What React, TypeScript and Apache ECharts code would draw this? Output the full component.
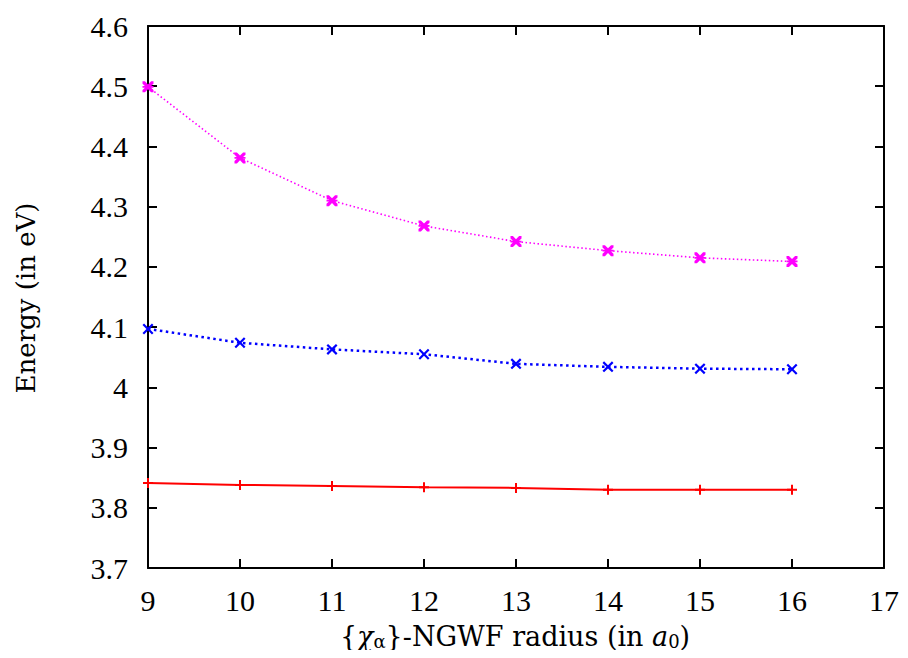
import React, { useEffect, useRef } from "react";
import * as echarts from "echarts";

const radii = [9, 10, 11, 12, 13, 14, 15, 16];
const magentaValues = [4.499, 4.381, 4.310, 4.268, 4.242, 4.227, 4.215, 4.209];
const blueValues = [4.097, 4.074, 4.063, 4.055, 4.039, 4.034, 4.031, 4.030];
const redValues = [3.841, 3.838, 3.836, 3.834, 3.833, 3.830, 3.830, 3.830];

const FONT = "'Liberation Serif', serif";
const TFONT = "'DejaVu Serif', serif";

const plusPath = "path://M4,0h2v4h4v2h-4v4h-2v-4h-4v-2h4z";
const crossPath =
  "path://M1.4,0L5,3.6L8.6,0L10,1.4L6.4,5L10,8.6L8.6,10L5,6.4L1.4,10L0,8.6L3.6,5L0,1.4z";
const starPath =
  "path://M0,0h2.2L5,2.8L7.8,0H10V2.2L7.8,4.2H10V5.8H7.8L10,7.8V10H7.8L5,7.2L2.2,10H0V7.8L2.2,5.8H0V4.2H2.2L0,2.2z";

function pairs(ys: number[]) {
  return radii.map((x, i) => [x, ys[i]]);
}

export default function App() {
  const ref = useRef<HTMLDivElement>(null);
  useEffect(() => {
    if (!ref.current) return;
    const chart = echarts.init(ref.current, undefined, { renderer: "svg" });
    const axisLine = { show: true, lineStyle: { color: "#000", width: 2 } };
    const axisTick = { show: true, inside: true, length: 9, lineStyle: { color: "#000", width: 2 } };
    chart.setOption({
      animation: false,
      backgroundColor: "#fff",
      grid: { left: 148, top: 26, right: 24, bottom: 90, containLabel: false },
      xAxis: [
        {
          type: "value",
          min: 9,
          max: 17,
          interval: 1,
          position: "bottom",
          axisLine,
          axisTick,
          splitLine: { show: false },
          axisLabel: { color: "#000", fontFamily: FONT, fontSize: 30, margin: 17 },
        },
        {
          type: "value",
          min: 9,
          max: 17,
          interval: 1,
          position: "top",
          axisLine,
          axisTick,
          splitLine: { show: false },
          axisLabel: { show: false },
        },
      ],
      yAxis: [
        {
          type: "value",
          min: 3.7,
          max: 4.6,
          interval: 0.1,
          position: "left",
          axisLine,
          axisTick,
          splitLine: { show: false },
          axisLabel: {
            color: "#000",
            fontFamily: FONT,
            fontSize: 30,
            margin: 20,
            formatter: (v: number) => String(+v.toFixed(1)),
          },
        },
        {
          type: "value",
          min: 3.7,
          max: 4.6,
          interval: 0.1,
          position: "right",
          axisLine,
          axisTick,
          splitLine: { show: false },
          axisLabel: { show: false },
        },
      ],
      graphic: [
        {
          type: "text",
          x: 515,
          y: 636,
          style: {
            text: "{{it|χ}{sub|α}}-NGWF radius (in {it|a}{sub|0})",
            fontFamily: TFONT,
            fontSize: 27,
            fill: "#000",
            align: "center",
            verticalAlign: "middle",
            rich: {
              it: { fontFamily: TFONT, fontSize: 27, fontStyle: "italic", fill: "#000" },
              sub: { fontFamily: TFONT, fontSize: 18, fill: "#000", padding: [10, 0, 0, 0] },
            },
          },
        },
        {
          type: "text",
          x: 26,
          y: 298,
          rotation: Math.PI / 2,
          style: {
            text: "Energy (in eV)",
            fontFamily: TFONT,
            fontSize: 26,
            fill: "#000",
            align: "center",
            verticalAlign: "middle",
          },
        },
      ],
      series: [
        {
          type: "line",
          data: pairs(redValues),
          symbol: plusPath,
          symbolSize: 10,
          itemStyle: { color: "#ff0000" },
          lineStyle: { color: "#ff0000", width: 2 },
          clip: false,
        },
        {
          type: "line",
          data: pairs(blueValues),
          symbol: crossPath,
          symbolSize: 11,
          itemStyle: { color: "#0000ff" },
          lineStyle: { color: "#0000ff", width: 2.5, type: [2.5, 3.5] },
          clip: false,
        },
        {
          type: "line",
          data: pairs(magentaValues),
          symbol: starPath,
          symbolSize: 11,
          itemStyle: { color: "#ff00ff" },
          lineStyle: { color: "#ff00ff", width: 1.6, type: [1.5, 2.5] },
          clip: false,
        },
      ],
    });
    return () => chart.dispose();
  }, []);
  return <div ref={ref} style={{ width: 908, height: 658, margin: -8 }} />;
}
